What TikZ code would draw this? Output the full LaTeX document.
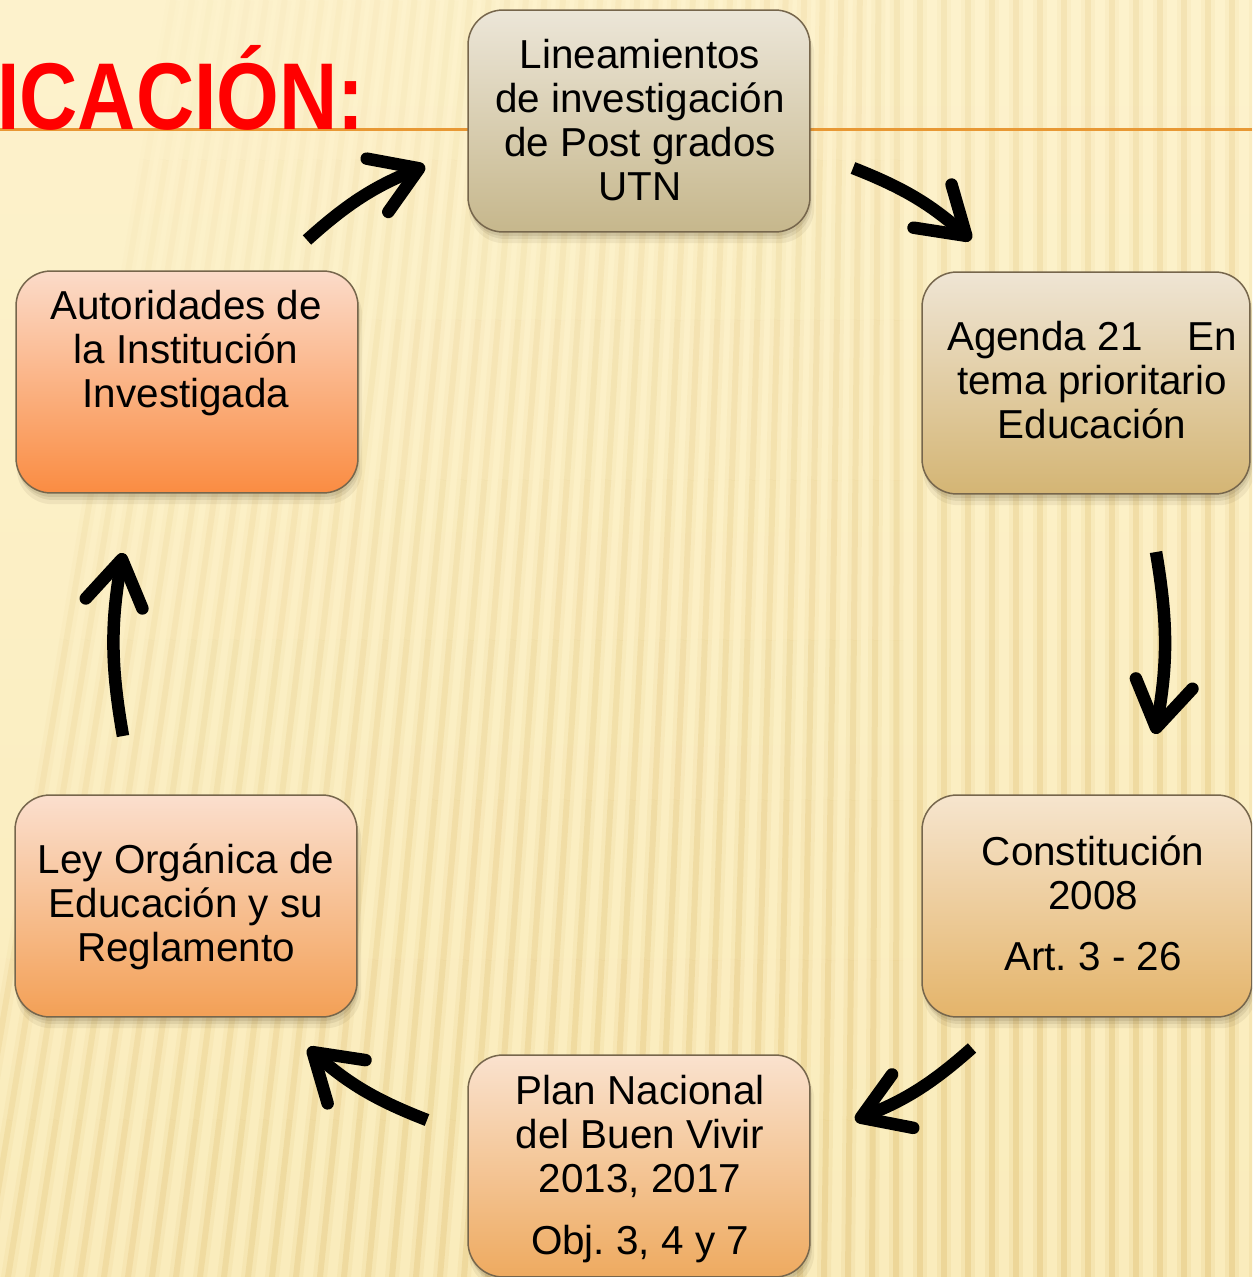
\documentclass[tikz,border=0pt]{standalone}
\usepackage{fontspec}
\setmainfont{Liberation Sans}
\newfontfamily\titlefont[FakeStretch=0.85]{Liberation Sans}
\usetikzlibrary{arrows.meta,shadows}
\definecolor{bgtop}{RGB}{253,242,204}
\definecolor{bgbot}{RGB}{250,236,188}
\definecolor{stripec}{RGB}{222,188,108}
\definecolor{rulec}{RGB}{232,152,52}
\definecolor{titlered}{RGB}{255,0,0}
\definecolor{boxline}{RGB}{118,102,76}
\definecolor{shadowc}{RGB}{70,55,30}
\definecolor{linT}{RGB}{236,230,216}
\definecolor{linB}{RGB}{198,183,140}
\definecolor{ageT}{RGB}{239,229,212}
\definecolor{ageB}{RGB}{212,181,116}
\definecolor{conT}{RGB}{246,229,206}
\definecolor{conB}{RGB}{228,180,106}
\definecolor{plaT}{RGB}{250,226,206}
\definecolor{plaB}{RGB}{238,170,96}
\definecolor{leyT}{RGB}{251,223,206}
\definecolor{leyB}{RGB}{243,160,86}
\definecolor{autT}{RGB}{251,219,201}
\definecolor{autB}{RGB}{250,140,66}
\frenchspacing
\begin{document}
\begin{tikzpicture}[x=0.02cm,y=-0.02cm,
  box/.style={rounded corners=0.7cm, minimum width=6.84cm, minimum height=4.44cm,
    inner sep=0pt, draw=boxline, line width=0.03cm,
    general shadow={fill=shadowc, opacity=0.10, shadow xshift=0.02cm, shadow yshift=-0.08cm},
    general shadow={fill=shadowc, opacity=0.09, shadow xshift=0.04cm, shadow yshift=-0.14cm},
    general shadow={fill=shadowc, opacity=0.07, shadow xshift=0.05cm, shadow yshift=-0.20cm, shadow scale=1.01}},
  txt/.style={align=center, inner sep=0pt, text=black, font=\fontsize{23}{25}\selectfont},
  cyc/.style={line width=0.25cm, -{Straight Barb[length=0.9cm,width=1.15cm,round]}},
  ttl/.style={anchor=base west, inner sep=0pt, font=\titlefont\bfseries\fontsize{54}{54}\selectfont}]
\useasboundingbox (0,0) rectangle (1252,1277);
\clip (0,0) rectangle (1252,1277);
% background
\fill[top color=bgtop, bottom color=bgbot] (0,0) rectangle (1252,1277);
\foreach \k in {0,...,54} {
  \foreach \j in {0,...,7} {
    \pgfmathsetmacro\xb{\k*24-40}
    \pgfmathsetmacro\s{0.16*max(0,1-\xb/900)}
    \pgfmathsetmacro\ya{\j*160}
    \pgfmathsetmacro\yc{\j*160+160}
    \pgfmathsetmacro\xa{\xb+\s*(1277-\ya)}
    \pgfmathsetmacro\xc{\xb+\s*(1277-\yc)}
    \pgfmathsetmacro\o{min(0.34,0.02+0.36*(0.6*(\ya+80)/1277+0.45*\xb/1252))}
    \pgfmathsetmacro\oo{0.45*\o}
    \draw[stripec, line width=0.28cm, opacity=\oo] (\xa,\ya) -- (\xc,\yc);
    \draw[stripec, line width=0.12cm, opacity=\o] (\xa,\ya) -- (\xc,\yc);
  }
}
% rule and title
\draw[rulec, line width=0.06cm] (0,130) -- (1252,130);
\node[ttl, text=titlered] (title) at (-3,130) {ICACIÓN:};
% boxes
\node[box, top color=linT, bottom color=linB] (lin) at (639,121) {};
\node[box, top color=ageT, bottom color=ageB, minimum width=6.56cm] (age) at (1086,383) {};
\node[box, top color=conT, bottom color=conB, minimum width=6.6cm] (con) at (1087,906) {};
\node[box, top color=plaT, bottom color=plaB] (pla) at (639,1166) {};
\node[box, top color=leyT, bottom color=leyB] (ley) at (186,906) {};
\node[box, top color=autT, bottom color=autB] (aut) at (187,382) {};
% texts
\node[txt] (lint) at (640,120) {Lineamientos\\de investigación\\de Post grados\\UTN};
\node[txt] (aget) at (1092,380) {Agenda 21\hspace{0.9cm}En\\tema prioritario\\Educación};
\node[txt] (cont) at (1093,903) {Constitución\\2008\\[0.34cm]Art. 3 - 26};
\node[txt] (plat) at (640,1169) {Plan Nacional\\del Buen Vivir\\2013, 2017\\[0.36cm]Obj. 3, 4 y 7};
\node[txt] (leyt) at (186,907) {Ley Orgánica de\\Educación y su\\Reglamento};
\node[txt] (autt) at (186,353) {Autoridades de\\la Institución\\Investigada};
% arrows
\coordinate (a1s) at (307,240); \coordinate (a1e) at (425,166);
\coordinate (a2s) at (853,168); \coordinate (a2e) at (971,240);
\coordinate (a3s) at (1156,552); \coordinate (a3e) at (1155,734);
\coordinate (a4s) at (972,1048); \coordinate (a4e) at (855,1120);
\coordinate (a5s) at (427,1120); \coordinate (a5e) at (308,1048);
\coordinate (a6s) at (123,736); \coordinate (a6e) at (123,553);
\draw[cyc] (a1s) to[bend left=10] (a1e);
\draw[cyc] (a2s) to[bend left=10] (a2e);
\draw[cyc] (a3s) to[bend left=10] (a3e);
\draw[cyc] (a4s) to[bend left=10] (a4e);
\draw[cyc] (a5s) to[bend left=10] (a5e);
\draw[cyc] (a6s) to[bend left=10] (a6e);
\end{tikzpicture}
\end{document}
